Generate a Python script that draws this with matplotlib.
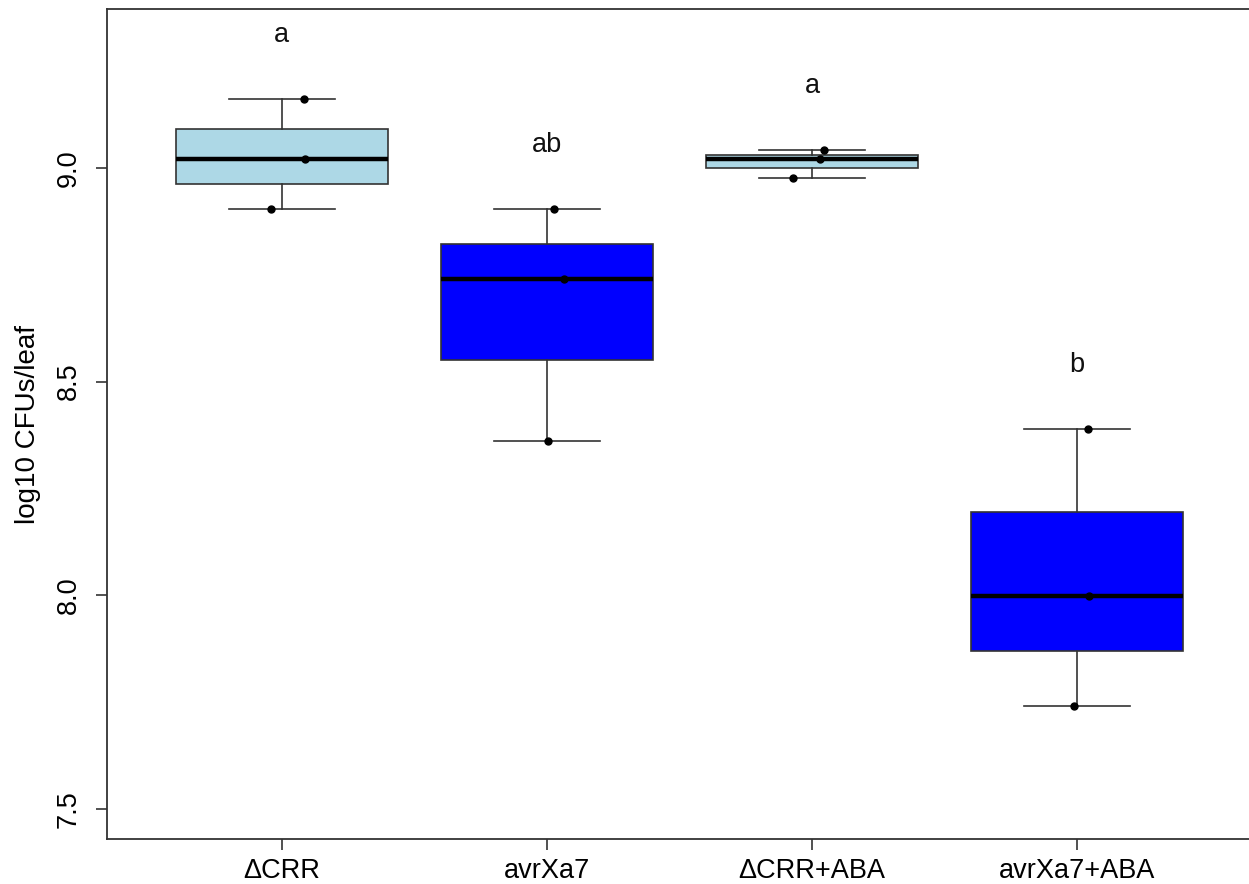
import matplotlib
matplotlib.use("Agg")
import matplotlib.pyplot as plt
import numpy as np

plt.rcParams['font.family'] = ['Liberation Sans', 'DejaVu Sans']

categories = ["ΔCRR", "avrXa7", "ΔCRR+ABA", "avrXa7+ABA"]
dcrr = [9.162, 9.021, 8.903]
avrxa7 = [8.903, 8.740, 8.362]
dcrr_aba = [9.0415, 9.021, 8.9775]
avrxa7_aba = [8.3895, 7.999, 7.740]
jitter = [[0.083, 0.087, -0.043],
          [0.028, 0.064, 0.003],
          [0.047, 0.032, -0.072],
          [0.040, 0.046, -0.010]]
letters = ["a", "ab", "a", "b"]
box_colors = ["#ADD8E6", "#0000FF", "#ADD8E6", "#0000FF"]
yticks = [7.5, 8.0, 8.5, 9.0]

groups = [dcrr, avrxa7, dcrr_aba, avrxa7_aba]
positions = np.arange(1, len(categories) + 1)

fig = plt.figure(figsize=(12.49, 8.84), dpi=100)
ax = fig.add_axes([107 / 1249, 1 - 839 / 884, 1 - 107 / 1249, (839 - 9) / 884])

edge = "#333333"
bp = ax.boxplot(groups, positions=positions, widths=0.8, patch_artist=True,
                whis=(0, 100), showfliers=False, capwidths=0.4,
                boxprops=dict(edgecolor=edge, linewidth=1.2),
                whiskerprops=dict(color=edge, linewidth=1.2, linestyle='-'),
                capprops=dict(color=edge, linewidth=1.2),
                medianprops=dict(color="black", linewidth=3.2))
for patch, c in zip(bp['boxes'], box_colors):
    patch.set_facecolor(c)

for pos, vals, jit in zip(positions, groups, jitter):
    ax.plot(pos + np.array(jit), vals, 'o', color='black', markersize=5, zorder=5)

for pos, vals, lab in zip(positions, groups, letters):
    ax.text(pos, max(vals) + 0.15, lab, ha='center', va='center', fontsize=19.5, color='#111111')

ax.set_xlim(0.34, 4.649)
ax.set_ylim(7.4297, 9.372)
ax.set_xticks(positions)
ax.set_xticklabels(categories, fontsize=19.5)
ax.set_yticks(yticks)
ax.set_yticklabels([f"{t:.1f}" for t in yticks], fontsize=19.5, rotation=90, va='center')
ax.set_ylabel("log10 CFUs/leaf", fontsize=20)
ax.yaxis.set_label_coords(-0.0575, 0.5)

for s in ['left', 'bottom', 'top']:
    ax.spines[s].set_color(edge)
    ax.spines[s].set_linewidth(1.3)
ax.spines['right'].set_visible(False)
ax.tick_params(axis='both', length=8, width=1.2, color=edge, pad=6)
ax.tick_params(axis='y', pad=10)

fig.savefig("out.png", dpi=100)
